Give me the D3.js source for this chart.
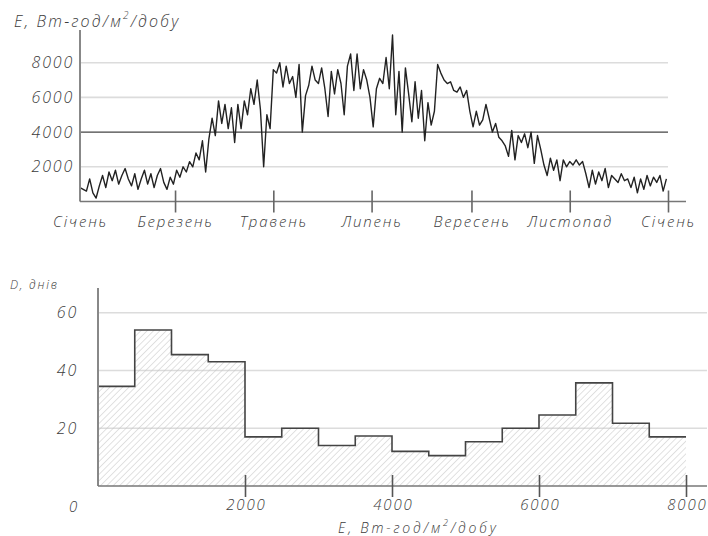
<!DOCTYPE html>
<html lang="uk">
<head>
<meta charset="UTF-8">
<title>Сонячна радіація</title>
<script src="https://d3js.org/d3.v7.min.js"></script>
<style>
  body { margin: 0; background: #fff; }
  svg text {
    font-family: "Open Sans", "DejaVu Sans", sans-serif;
    font-weight: 300;
    font-style: italic;
    letter-spacing: 1.8px;
    fill: #3c3c3c;
  }
</style>
</head>
<body>
<div id="chart"></div>
<script>
// денна радіація, Вт-год/м²/добу, кожні 2 доби від 1 січня
const dailyE = [
  800, 700, 600, 1300, 500, 200, 900, 1500, 800, 1700,
  1200, 1800, 1000, 1500, 1900, 1300, 900, 1600, 700, 1300,
  1800, 1000, 1600, 800, 1500, 1900, 1100, 700, 1400, 1000,
  1800, 1400, 2000, 1700, 2300, 2000, 2800, 2400, 3500, 1700,
  3600, 4800, 3800, 5800, 4500, 5600, 4200, 5400, 3400, 5600,
  4200, 5800, 5000, 6500, 5600, 7000, 5300, 2000, 5000, 4200,
  7600, 7400, 8000, 6600, 7800, 6800, 7200, 6000, 7900, 4000,
  6100, 6700, 7800, 7000, 6800, 7700, 6500, 4900, 7500, 6200,
  7600, 6800, 5000, 7800, 8500, 6400, 8500, 6500, 7600, 7000,
  6000, 4300, 6500, 7100, 6800, 8300, 6500, 9600, 5000, 7500,
  4000, 7700, 6200, 4600, 6900, 4800, 6400, 3500, 5700, 4400,
  5200, 7900, 7400, 7000, 6800, 6900, 6400, 6300, 6600, 6000,
  6400, 5200, 4300, 5200, 4400, 4700, 5600, 4800, 4000, 4500,
  3700, 3500, 3200, 2600, 4100, 2400, 3800, 3400, 3900, 3100,
  4000, 2200, 3800, 3000, 2100, 1500, 2500, 1800, 2400, 1200,
  2400, 2000, 2300, 2100, 2400, 2100, 2300, 1600, 800, 1800,
  1000, 1700, 1200, 1900, 800, 1500, 1300, 1100, 1600, 1200,
  1300, 800, 1400, 500, 1300, 700, 1500, 900, 1400, 1100,
  1500, 600, 1300
];
const monthTicks = ["2021-01-01", "2021-03-01", "2021-05-01", "2021-07-01", "2021-09-01", "2021-11-01", "2022-01-01"];
const monthNames = ["Січень", "Березень", "Травень", "Липень", "Вересень", "Листопад", "Січень"];
const eTicks = [2000, 4000, 6000, 8000];

// гістограма: інтервали по 500 Вт-год/м²/добу
const binStart = [0, 500, 1000, 1500, 2000, 2500, 3000, 3500, 4000, 4500, 5000, 5500, 6000, 6500, 7000, 7500];
const binDays = [34.5, 54, 45.5, 43, 17, 20, 14, 17.3, 12, 10.5, 15.3, 20, 24.6, 35.7, 21.7, 17];
const dTicks = [20, 40, 60];
const hxTicks = [2000, 4000, 6000, 8000];

const W = 708, H = 536;
const svg = d3.select("#chart").append("svg").attr("width", W).attr("height", H);

const defs = svg.append("defs");
defs.append("pattern")
  .attr("id", "hatch")
  .attr("patternUnits", "userSpaceOnUse")
  .attr("width", 4.5).attr("height", 4.5)
  .attr("patternTransform", "rotate(45)")
  .append("line")
  .attr("x1", 0).attr("y1", 0).attr("x2", 0).attr("y2", 4.5)
  .attr("stroke", "#c4c4c4").attr("stroke-width", 1);

// ---------- верхній графік ----------
const parse = d3.timeParse("%Y-%m-%d");
const t0 = parse("2021-01-01");
const data = dailyE.map((v, i) => ({ date: d3.timeDay.offset(t0, i * 2), v }));

const x1 = d3.scaleTime().domain([t0, parse("2022-01-01")]).range([80, 668]);
const y1 = d3.scaleLinear().domain([0, 10000]).range([201.5, 28]);

const gTop = svg.append("g");

gTop.append("g")
  .selectAll("line")
  .data(eTicks)
  .join("line")
  .attr("x1", 80).attr("x2", 668)
  .attr("y1", d => y1(d)).attr("y2", d => y1(d))
  .attr("stroke", d => d === 4000 ? "#444" : "#dcdcdc")
  .attr("stroke-width", d => d === 4000 ? 1.4 : 1.6);

gTop.append("g")
  .selectAll("text")
  .data(eTicks)
  .join("text")
  .attr("x", 74).attr("y", d => y1(d))
  .attr("dy", "0.35em")
  .attr("text-anchor", "end")
  .attr("font-size", 16)
  .text(d => d);

gTop.append("path")
  .datum(data)
  .attr("fill", "none")
  .attr("stroke", "#222")
  .attr("stroke-width", 1.4)
  .attr("stroke-linejoin", "round")
  .attr("d", d3.line().x(d => x1(d.date)).y(d => y1(d.v)));

// осі
gTop.append("line")
  .attr("x1", 80).attr("x2", 80).attr("y1", 30).attr("y2", y1(0))
  .attr("stroke", "#888").attr("stroke-width", 2);
gTop.append("line")
  .attr("x1", 80).attr("x2", 686).attr("y1", y1(0)).attr("y2", y1(0))
  .attr("stroke", "#777").attr("stroke-width", 1.6);

const xAxis1 = d3.axisBottom(x1)
  .tickValues(monthTicks.map(parse))
  .tickFormat((d, i) => monthNames[i])
  .tickSize(11);

gTop.append("g")
  .attr("transform", `translate(0,${y1(0)})`)
  .call(xAxis1)
  .call(g => g.select(".domain").remove())
  .call(g => g.selectAll(".tick line")
    .attr("y1", -11).attr("stroke", "#666").attr("stroke-width", 1.6)
    .filter((d, i) => i === 0).remove())
  .call(g => g.selectAll(".tick text")
    .attr("y", 15).attr("font-size", 15).attr("fill", "#3c3c3c"));

const t1 = gTop.append("text").attr("x", 14).attr("y", 27).attr("font-size", 16).style("letter-spacing", "2.2px");
t1.append("tspan").text("E, Вт-год/м");
t1.append("tspan").attr("dy", -8).attr("font-size", 10).text("2");
t1.append("tspan").attr("dy", 8).text("/добу");

// ---------- нижній графік ----------
const x2 = d3.scaleLinear().domain([0, 8000]).range([98, 686]);
const y2 = d3.scaleLinear().domain([0, 60]).range([486, 312.7]);

const gBot = svg.append("g");

gBot.append("g")
  .selectAll("line")
  .data(dTicks)
  .join("line")
  .attr("x1", 98).attr("x2", 707)
  .attr("y1", d => y2(d)).attr("y2", d => y2(d))
  .attr("stroke", "#dcdcdc").attr("stroke-width", 1.6);

const bins = binStart.map((s, i) => ({ x0: s, x1: s + 500, v: binDays[i] }));

gBot.append("g")
  .selectAll("rect")
  .data(bins)
  .join("rect")
  .attr("x", d => x2(d.x0))
  .attr("width", d => x2(d.x1) - x2(d.x0))
  .attr("y", d => y2(d.v))
  .attr("height", d => y2(0) - y2(d.v))
  .attr("fill", "url(#hatch)");

// ступінчастий контур
const steps = [];
bins.forEach(d => { steps.push([d.x0, d.v]); steps.push([d.x1, d.v]); });
gBot.append("path")
  .attr("fill", "none")
  .attr("stroke", "#444")
  .attr("stroke-width", 1.6)
  .attr("d", d3.line().x(d => x2(d[0])).y(d => y2(d[1]))(steps));

gBot.append("line")
  .attr("x1", 98).attr("x2", 98).attr("y1", 288).attr("y2", y2(0))
  .attr("stroke", "#888").attr("stroke-width", 2);
gBot.append("line")
  .attr("x1", 98).attr("x2", 707).attr("y1", y2(0)).attr("y2", y2(0))
  .attr("stroke", "#777").attr("stroke-width", 1.6);

gBot.append("g")
  .selectAll("text")
  .data(dTicks)
  .join("text")
  .attr("x", 78).attr("y", d => y2(d))
  .attr("dy", "0.35em")
  .attr("text-anchor", "end")
  .attr("font-size", 16)
  .text(d => d);

const xAxis2 = d3.axisBottom(x2).tickValues(hxTicks).tickSize(11).tickFormat(d => d);
gBot.append("g")
  .attr("transform", `translate(0,${y2(0)})`)
  .call(xAxis2)
  .call(g => g.select(".domain").remove())
  .call(g => g.selectAll(".tick line")
    .attr("y1", -11).attr("stroke", "#555").attr("stroke-width", 1.6))
  .call(g => g.selectAll(".tick text")
    .attr("y", 13).attr("dx", "0.9px").attr("font-size", 15).attr("fill", "#3c3c3c"));

gBot.append("text").attr("x", 74).attr("y", 507).attr("dy", "0.35em")
  .attr("text-anchor", "middle").attr("font-size", 15).text("0");

gBot.append("text").attr("x", 10).attr("y", 289).attr("font-size", 12).text("D, днів");

const t2 = gBot.append("text").attr("x", 338).attr("y", 533).attr("font-size", 14).style("letter-spacing", "2.8px");
t2.append("tspan").text("E, Вт-год/м");
t2.append("tspan").attr("dy", -7).attr("font-size", 9).text("2");
t2.append("tspan").attr("dy", 7).text("/добу");
</script>
</body>
</html>
